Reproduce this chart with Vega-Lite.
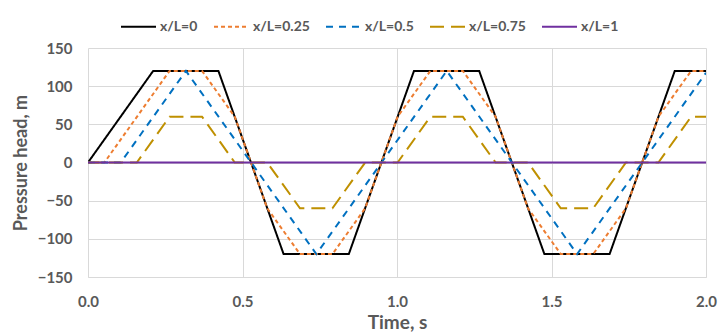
{
  "$schema": "https://vega.github.io/schema/vega-lite/v6.json",
  "width": 618,
  "height": 229,
  "autosize": "none",
  "padding": {"left": 88, "top": 48, "right": 12, "bottom": 58},
  "background": "white",
  "config": {"view": {"stroke": null}, "font": "Lato"},
  "data": {"values": [
    {"series": "x/L=0", "t": 0, "h": 0},
    {"series": "x/L=0", "t": 0.211, "h": 120},
    {"series": "x/L=0", "t": 0.422, "h": 120},
    {"series": "x/L=0", "t": 0.633, "h": -120},
    {"series": "x/L=0", "t": 0.844, "h": -120},
    {"series": "x/L=0", "t": 1.055, "h": 120},
    {"series": "x/L=0", "t": 1.266, "h": 120},
    {"series": "x/L=0", "t": 1.477, "h": -120},
    {"series": "x/L=0", "t": 1.688, "h": -120},
    {"series": "x/L=0", "t": 1.899, "h": 120},
    {"series": "x/L=0", "t": 2.0, "h": 120},
    {"series": "x/L=0.25", "t": 0, "h": 0},
    {"series": "x/L=0.25", "t": 0.053, "h": 0},
    {"series": "x/L=0.25", "t": 0.264, "h": 120},
    {"series": "x/L=0.25", "t": 0.369, "h": 120},
    {"series": "x/L=0.25", "t": 0.475, "h": 60},
    {"series": "x/L=0.25", "t": 0.580, "h": -60},
    {"series": "x/L=0.25", "t": 0.686, "h": -120},
    {"series": "x/L=0.25", "t": 0.791, "h": -120},
    {"series": "x/L=0.25", "t": 0.897, "h": -60},
    {"series": "x/L=0.25", "t": 1.002, "h": 60},
    {"series": "x/L=0.25", "t": 1.108, "h": 120},
    {"series": "x/L=0.25", "t": 1.213, "h": 120},
    {"series": "x/L=0.25", "t": 1.319, "h": 60},
    {"series": "x/L=0.25", "t": 1.424, "h": -60},
    {"series": "x/L=0.25", "t": 1.530, "h": -120},
    {"series": "x/L=0.25", "t": 1.635, "h": -120},
    {"series": "x/L=0.25", "t": 1.741, "h": -60},
    {"series": "x/L=0.25", "t": 1.846, "h": 60},
    {"series": "x/L=0.25", "t": 1.952, "h": 120},
    {"series": "x/L=0.25", "t": 2.0, "h": 120},
    {"series": "x/L=0.5", "t": 0, "h": 0},
    {"series": "x/L=0.5", "t": 0.106, "h": 0},
    {"series": "x/L=0.5", "t": 0.317, "h": 120},
    {"series": "x/L=0.5", "t": 0.739, "h": -120},
    {"series": "x/L=0.5", "t": 1.161, "h": 120},
    {"series": "x/L=0.5", "t": 1.583, "h": -120},
    {"series": "x/L=0.5", "t": 2.0, "h": 117.5},
    {"series": "x/L=0.75", "t": 0, "h": 0},
    {"series": "x/L=0.75", "t": 0.158, "h": 0},
    {"series": "x/L=0.75", "t": 0.264, "h": 60},
    {"series": "x/L=0.75", "t": 0.369, "h": 60},
    {"series": "x/L=0.75", "t": 0.475, "h": 0},
    {"series": "x/L=0.75", "t": 0.580, "h": 0},
    {"series": "x/L=0.75", "t": 0.686, "h": -60},
    {"series": "x/L=0.75", "t": 0.791, "h": -60},
    {"series": "x/L=0.75", "t": 0.897, "h": 0},
    {"series": "x/L=0.75", "t": 1.002, "h": 0},
    {"series": "x/L=0.75", "t": 1.108, "h": 60},
    {"series": "x/L=0.75", "t": 1.213, "h": 60},
    {"series": "x/L=0.75", "t": 1.319, "h": 0},
    {"series": "x/L=0.75", "t": 1.424, "h": 0},
    {"series": "x/L=0.75", "t": 1.530, "h": -60},
    {"series": "x/L=0.75", "t": 1.635, "h": -60},
    {"series": "x/L=0.75", "t": 1.741, "h": 0},
    {"series": "x/L=0.75", "t": 1.846, "h": 0},
    {"series": "x/L=0.75", "t": 1.952, "h": 60},
    {"series": "x/L=0.75", "t": 2.0, "h": 60},
    {"series": "x/L=1", "t": 0, "h": 0},
    {"series": "x/L=1", "t": 2.0, "h": 0}
  ]},
  "mark": {"type": "line", "strokeWidth": 2, "clip": true},
  "encoding": {
    "x": {
      "field": "t", "type": "quantitative",
      "scale": {"domain": [0, 2], "nice": false, "zero": false},
      "axis": {
        "values": [0, 0.5, 1, 1.5, 2], "format": ".1f", "title": "Time, s",
        "grid": true, "gridColor": "#D9D9D9", "domainColor": "#D9D9D9", "ticks": false,
        "labelFont": "Lato", "labelFontSize": 15, "labelFontWeight": "bold", "labelColor": "#595959",
        "labelPadding": 17, "labelFlush": false,
        "titleFont": "Lato", "titleFontSize": 19, "titleFontWeight": "bold", "titleColor": "#595959", "titlePadding": 4
      }
    },
    "y": {
      "field": "h", "type": "quantitative",
      "scale": {"domain": [-150, 150], "nice": false},
      "axis": {
        "values": [-150, -100, -50, 0, 50, 100, 150], "title": "Pressure head, m",
        "grid": true, "gridColor": "#D9D9D9", "domain": false, "ticks": false,
        "labelFont": "Lato", "labelFontSize": 15, "labelFontWeight": "bold", "labelColor": "#595959",
        "labelPadding": 16,
        "titleFont": "Lato", "titleFontSize": 18, "titleFontWeight": "bold", "titleColor": "#595959", "titlePadding": 7
      }
    },
    "color": {
      "field": "series", "type": "nominal",
      "scale": {"domain": ["x/L=0", "x/L=0.25", "x/L=0.5", "x/L=0.75", "x/L=1"], "range": ["#000000", "#ED7D31", "#0070C0", "#BF9000", "#7030A0"]},
      "legend": {
        "title": null, "orient": "none", "legendX": 32, "legendY": -40, "direction": "horizontal", "columns": 5,
        "symbolType": "stroke", "symbolSize": 1225, "symbolStrokeWidth": 2,
        "labelFont": "Lato", "labelFontSize": 14, "labelFontWeight": "bold", "labelColor": "#595959",
        "labelOffset": 3, "columnPadding": 12
      }
    },
    "strokeDash": {
      "field": "series", "type": "nominal",
      "scale": {"domain": ["x/L=0", "x/L=0.25", "x/L=0.5", "x/L=0.75", "x/L=1"], "range": [[1, 0], [4, 3], [7, 6], [14, 7], [1, 0]]},
      "legend": {
        "title": null, "orient": "none", "legendX": 32, "legendY": -40, "direction": "horizontal", "columns": 5,
        "symbolType": "stroke", "symbolSize": 1225, "symbolStrokeWidth": 2,
        "labelFont": "Lato", "labelFontSize": 14, "labelFontWeight": "bold", "labelColor": "#595959",
        "labelOffset": 3, "columnPadding": 12
      }
    }
  }
}
